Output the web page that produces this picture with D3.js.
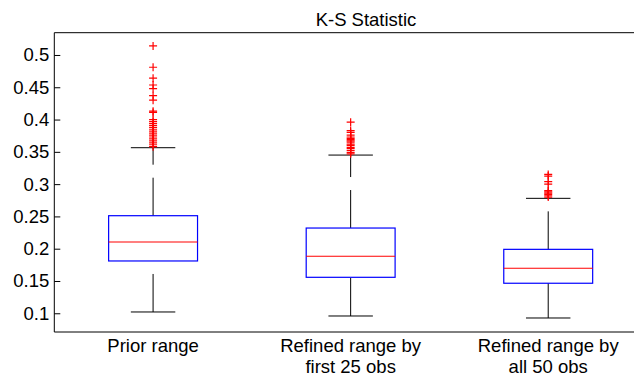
<!DOCTYPE html>
<html>
<head>
<meta charset="utf-8">
<script src="https://cdn.jsdelivr.net/npm/d3@7"></script>
<style>
  html, body { margin: 0; padding: 0; background: #fff; }
  svg { display: block; }
  text { font-family: "Liberation Sans", Arial, Helvetica, sans-serif; fill: #000; }
</style>
</head>
<body>
<svg id="chart" width="634" height="375"></svg>
<script>
// ---- data ----
const categories = [["Prior range"], ["Refined range by", "first 25 obs"], ["Refined range by", "all 50 obs"]];
const q1 = [0.181, 0.1557, 0.1465];
const median = [0.2104, 0.1883, 0.1697];
const q3 = [0.2511, 0.232, 0.199];
const whiskerLow = [0.102, 0.0958, 0.0927];
const whiskerHigh = [0.3564, 0.345, 0.278];
const outliers1 = [0.514, 0.481, 0.464, 0.4535, 0.448, 0.437, 0.430, 0.413, 0.411,
  0.400, 0.397, 0.394, 0.391, 0.388, 0.385, 0.382, 0.379, 0.376, 0.373, 0.370, 0.367, 0.364, 0.361, 0.358];
const outliers2 = [0.396, 0.383, 0.380, 0.376, 0.373, 0.371, 0.369, 0.367, 0.365, 0.362, 0.360, 0.357, 0.355, 0.352, 0.349, 0.347];
const outliers3 = [0.315, 0.3125, 0.304, 0.300, 0.290, 0.288, 0.286, 0.284, 0.282, 0.280];
const outliers = [outliers1, outliers2, outliers3];
const yTicks = [0.1, 0.15, 0.2, 0.25, 0.3, 0.35, 0.4, 0.45, 0.5];
const titleText = "K-S Statistic";

// ---- layout ----
const svg = d3.select("#chart");
const mLeft = 54.3, mRight = 647, mTop = 32.7, mBottom = 332;
const x = d3.scaleLinear().domain([0.5, 3.5]).range([mLeft, mRight]);
const y = d3.scaleLinear().domain([0.071, 0.5345]).range([mBottom, mTop]);
const boxW = 0.45, capW = 0.225;
const FS = "18.5px";

// axes frame
svg.append("line").attr("x1", mLeft).attr("x2", 634).attr("y1", mTop).attr("y2", mTop)
  .attr("stroke", "#000").attr("stroke-width", 1);
svg.append("line").attr("x1", mLeft).attr("x2", 634).attr("y1", mBottom).attr("y2", mBottom)
  .attr("stroke", "#000").attr("stroke-width", 1);

const yAxis = d3.axisLeft(y).tickValues(yTicks).tickSize(-6).tickPadding(5)
  .tickFormat(d => String(+d.toFixed(2)));
const gy = svg.append("g").attr("transform", `translate(${mLeft},0)`).call(yAxis);
gy.select(".domain").attr("stroke", "#000").attr("d", `M0,${mTop}V${mBottom}`);
gy.selectAll(".tick line").attr("stroke", "#000");
gy.selectAll(".tick text").style("font-size", FS).attr("fill", "#000")
  .style("font-family", "'Liberation Sans', Arial, sans-serif");

// title
svg.append("text").attr("x", 366).attr("y", 26).attr("text-anchor", "middle")
  .style("font-size", FS).text(titleText);

// boxes
const idx = d3.range(categories.length);
const g = svg.append("g");
idx.forEach(i => {
  const cx = x(i + 1);
  // whiskers (dashed), each drawn from lower value to higher value
  g.append("line").attr("x1", cx).attr("x2", cx).attr("y1", y(q3[i])).attr("y2", y(whiskerHigh[i]))
    .attr("stroke", "#000").attr("stroke-width", 1).attr("stroke-dasharray", "38,13");
  g.append("line").attr("x1", cx).attr("x2", cx).attr("y1", y(whiskerLow[i])).attr("y2", y(q1[i]))
    .attr("stroke", "#000").attr("stroke-width", 1).attr("stroke-dasharray", "38,13");
  // caps
  [whiskerLow[i], whiskerHigh[i]].forEach(v => {
    g.append("line").attr("x1", x(i + 1 - capW / 2)).attr("x2", x(i + 1 + capW / 2))
      .attr("y1", y(v)).attr("y2", y(v)).attr("stroke", "#000").attr("stroke-width", 1);
  });
  // box
  g.append("rect").attr("x", x(i + 1 - boxW / 2)).attr("y", y(q3[i]))
    .attr("width", x(i + 1 + boxW / 2) - x(i + 1 - boxW / 2))
    .attr("height", y(q1[i]) - y(q3[i]))
    .attr("fill", "none").attr("stroke", "#0000ff").attr("stroke-width", 1.2);
  // median
  g.append("line").attr("x1", x(i + 1 - boxW / 2)).attr("x2", x(i + 1 + boxW / 2))
    .attr("y1", y(median[i])).attr("y2", y(median[i]))
    .attr("stroke", "#ff0000").attr("stroke-width", 1.2);
  // outliers
  outliers[i].forEach(v => {
    const py = y(v);
    g.append("path").attr("d", `M${cx - 4},${py}H${cx + 4}M${cx},${py - 4}V${py + 4}`)
      .attr("stroke", "#ff0000").attr("stroke-width", 1.2).attr("fill", "none");
  });
  // category labels
  const t = svg.append("text").attr("text-anchor", "middle").style("font-size", FS);
  categories[i].forEach((line, k) => {
    t.append("tspan").attr("x", cx).attr("y", 352 + k * 20.5).text(line);
  });
});
</script>
</body>
</html>
